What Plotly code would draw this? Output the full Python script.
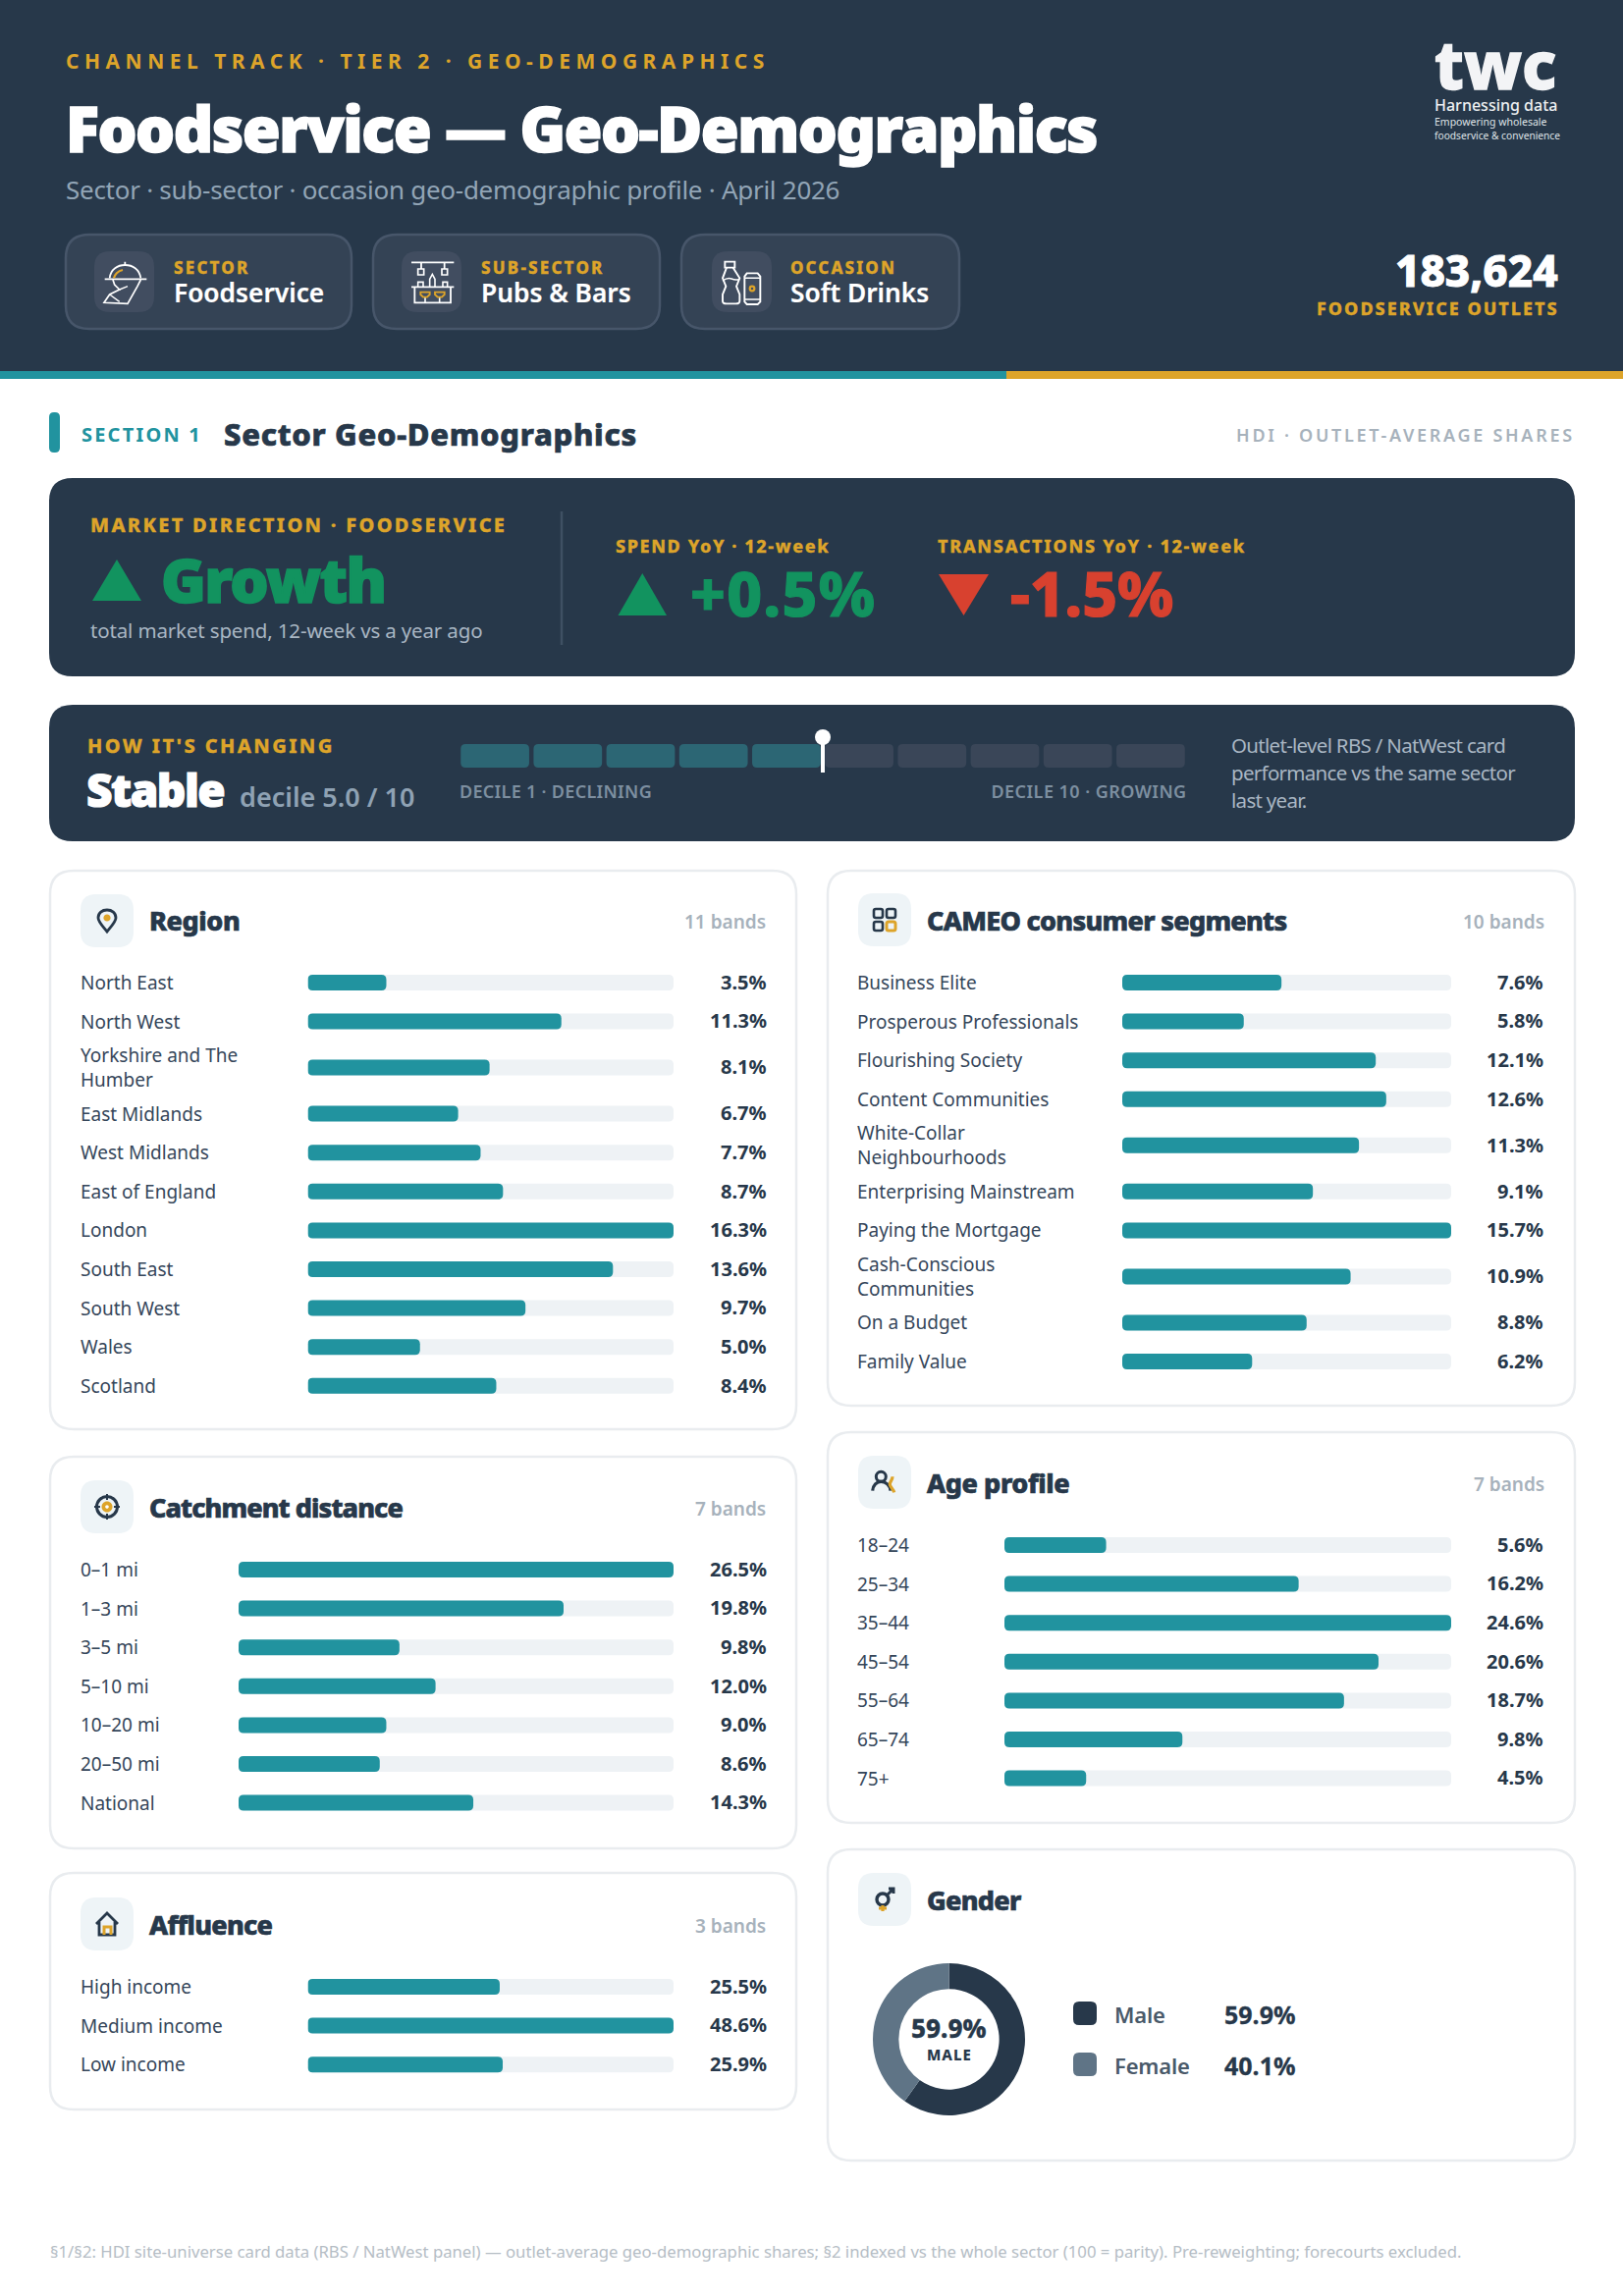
import json
import re
import plotly.graph_objects as go

W, H = 1653, 2339
FONT = "Noto Sans"
NAVY = "#27384a"
TEAL = "#21939f"
GOLD = "#dda42a"
GREEN = "#12935f"
RED = "#d8412f"
TRACK = "#eef2f5"
BORDER = "#e9ecef"
WHITE = "#ffffff"

region_labels = ["North East", "North West", "Yorkshire and The<br>Humber", "East Midlands", "West Midlands",
                 "East of England", "London", "South East", "South West", "Wales", "Scotland"]
region_values = [3.5, 11.3, 8.1, 6.7, 7.7, 8.7, 16.3, 13.6, 9.7, 5.0, 8.4]

cameo_labels = ["Business Elite", "Prosperous Professionals", "Flourishing Society", "Content Communities",
                "White-Collar<br>Neighbourhoods", "Enterprising Mainstream", "Paying the Mortgage",
                "Cash-Conscious<br>Communities", "On a Budget", "Family Value"]
cameo_values = [7.6, 5.8, 12.1, 12.6, 11.3, 9.1, 15.7, 10.9, 8.8, 6.2]

catchment_labels = ["0–1 mi", "1–3 mi", "3–5 mi", "5–10 mi", "10–20 mi", "20–50 mi", "National"]
catchment_values = [26.5, 19.8, 9.8, 12.0, 9.0, 8.6, 14.3]

age_labels = ["18–24", "25–34", "35–44", "45–54", "55–64", "65–74", "75+"]
age_values = [5.6, 16.2, 24.6, 20.6, 18.7, 9.8, 4.5]

affluence_labels = ["High income", "Medium income", "Low income"]
affluence_values = [25.5, 48.6, 25.9]

gender_labels = ["Male", "Female"]
gender_values = [59.9, 40.1]
gender_colors = ["#27384a", "#5f7486"]

decile_bins = [1, 2, 3, 4, 5, 6, 7, 8, 9, 10]
decile_score = 5.0

shapes = []
annotations = []
spacing = {}
strokes = {}
layout_axes = {}
fig = go.Figure()


def rrect(x0, y0, x1, y1, r):
    return (f"M{x0 + r} {y0} L{x1 - r} {y0} Q{x1} {y0} {x1} {y0 + r} L{x1} {y1 - r} Q{x1} {y1} {x1 - r} {y1} "
            f"L{x0 + r} {y1} Q{x0} {y1} {x0} {y1 - r} L{x0} {y0 + r} Q{x0} {y0} {x0 + r} {y0} Z")


def circle(cx, cy, r):
    c = r * 0.5523
    return (f"M{cx + r} {cy} C{cx + r} {cy + c} {cx + c} {cy + r} {cx} {cy + r} "
            f"C{cx - c} {cy + r} {cx - r} {cy + c} {cx - r} {cy} "
            f"C{cx - r} {cy - c} {cx - c} {cy - r} {cx} {cy - r} "
            f"C{cx + c} {cy - r} {cx + r} {cy - c} {cx + r} {cy} Z")


def box(x0, y0, x1, y1, r, fill, line=None, lw=0):
    shapes.append(dict(type="path", path=rrect(x0, y0, x1, y1, r), xref="x", yref="y", fillcolor=fill,
                       line=dict(color=line or fill, width=lw), layer="below"))


def triangle(x0, x1, y_base, y_tip, color):
    shapes.append(dict(type="path", path=f"M{x0} {y_base} L{x1} {y_base} L{(x0 + x1) / 2} {y_tip} Z", xref="x",
                       yref="y", fillcolor=color, line=dict(width=0), layer="below"))


def txt(x, y, text, size, color, weight=400, anchor="left", ls=None, sw=None, yref="y"):
    if yref == "y":
        y -= 1
    annotations.append(dict(x=x, y=y, xref="x", yref=yref, text=text, showarrow=False, xanchor=anchor,
                            yanchor="middle", align=anchor, borderpad=0, borderwidth=0,
                            font=dict(family=FONT, size=size, color=color, weight=weight)))
    if ls:
        spacing[text] = ls
    if sw:
        strokes[text] = sw


def draw_icon(parts, cx, cy, k=1.0, c=12):
    for path, line, fill, lw in parts:
        moved = re.sub(r"(-?[\d.]+) (-?[\d.]+)",
                       lambda m: f"{cx + (float(m.group(1)) - c) * k:.2f} {cy + (float(m.group(2)) - c) * k:.2f}",
                       path)
        shapes.append(dict(type="path", path=moved, xref="x", yref="y", fillcolor=fill or "rgba(0,0,0,0)",
                           line=dict(color=line or "rgba(0,0,0,0)", width=lw), layer="below"))


def row_offsets(labels, pitch, extra):
    offs = [0.0]
    for prev, cur in zip(labels, labels[1:]):
        offs.append(offs[-1] + pitch + (extra if "<br>" in prev else 0) + (extra if "<br>" in cur else 0))
    return offs


def bar_panel(idx, labels, values, label_x, bar_x0, bar_x1, value_x, first_y, pitch=39.6, extra=7.4, thick=16):
    offs = row_offsets(labels, pitch, extra)
    top, bottom = first_y - 24, first_y + offs[-1] + 24
    layout_axes[f"xaxis{idx}"] = dict(domain=[bar_x0 / W, bar_x1 / W], range=[0, max(values)], visible=False,
                                      anchor=f"y{idx}", fixedrange=True)
    layout_axes[f"yaxis{idx}"] = dict(domain=[1 - bottom / H, 1 - top / H], range=[offs[-1] + 24, -24],
                                      visible=False, anchor=f"x{idx}", fixedrange=True)
    fig.add_trace(go.Bar(x=[max(values)] * len(values), y=offs, orientation="h", width=thick, xaxis=f"x{idx}",
                         yaxis=f"y{idx}", marker=dict(color=TRACK, line=dict(width=0)), showlegend=False))
    fig.add_trace(go.Bar(x=values, y=offs, orientation="h", width=thick, xaxis=f"x{idx}", yaxis=f"y{idx}",
                         marker=dict(color=TEAL, line=dict(width=0)), showlegend=False))
    for lab, v, off in zip(labels, values, offs):
        txt(label_x, off, lab, 19, "#35465a", 400, yref=f"y{idx}")
        txt(value_x, off - 0.7, f"{v:.1f}%", 20, NAVY, 700, anchor="right", yref=f"y{idx}")


def card(x0, y0, x1, y1, box_y, title_y, title, bands, parts, ls=-0.7):
    box(x0, y0, x1, y1, 24, WHITE, BORDER, 2.5)
    box(x0 + 31, box_y, x0 + 85, box_y + 54, 16, "#eef4f7")
    draw_icon(parts, x0 + 58, box_y + 27)
    txt(x0 + 101, title_y - 0.5, title, 27, NAVY, 800, ls=ls, sw=0.7)
    if bands:
        txt(x1 - 31, title_y + 1, bands, 19, "#a7b2bc", 600, anchor="right")


# header band
box(0, 0, W, 378, 0, NAVY)
box(0, 378, 1025, 386, 0, TEAL)
box(1025, 378, W, 386, 0, GOLD)
txt(67, 63, "CHANNEL TRACK · TIER 2 · GEO-DEMOGRAPHICS", 21, GOLD, 700, ls=5.5)
txt(67, 131, "Foodservice — Geo-Demographics", 63, WHITE, 900, ls=-1.5, sw=1.6)
txt(67, 194, "Sector · sub-sector · occasion geo-demographic profile · April 2026", 26, "#92a5b6", ls=-0.27)

hat_icon = [
    ("M65 100 C68 72 90 60 112 60 C135 60 156 72 160 100", WHITE, None, 1.8),
    ("M50 103 L178 103 M112 50 L112 60", WHITE, None, 1.8),
    ("M75 105 L80 120 L95 135 L65 150 L48 175 L120 178 L150 125 L160 105", WHITE, None, 1.7),
    ("M65 150 L95 172 M95 135 L120 125", WHITE, None, 1.4),
    ("M78 100 C80 90 90 78 105 75", GOLD, None, 2.2),
]
pub_icon = [
    ("M42 52 L172 52 M72 52 L72 72 M143 52 L143 72", WHITE, None, 1.8),
    ("M62 72 L80 72 L80 90 L62 90 Z M135 72 L152 72 L152 90 L135 90 Z", WHITE, None, 1.7),
    ("M42 127 L172 127 M52 127 L52 175 L162 175 L162 127", WHITE, None, 1.8),
    ("M62 127 L62 112 L78 112 L78 127 M138 127 L138 112 L152 112 L152 127", WHITE, None, 1.6),
    ("M98 127 L98 103 L106 88 L114 103 L114 127", WHITE, None, 1.6),
    ("M84 158 L84 175 M128 158 L128 175", WHITE, None, 1.6),
    ("M70 143 L98 143 L98 150 L90 158 L78 158 L70 150 Z M114 143 L143 143 L143 150 L135 158 L122 158 L114 150 Z",
     GOLD, None, 1.9),
]
bottle_icon = [
    ("M55 50 L85 50 L85 68 L55 68 Z", WHITE, None, 1.9),
    ("M60 68 L48 100 L58 125 L48 150 L48 170 Q48 178 60 178 L88 178 Q100 178 100 170 L100 150 L90 125 L100 100 L80 68",
     WHITE, None, 1.9),
    ("M48 108 Q62 98 75 102 Q86 106 97 104", WHITE, None, 1.5),
    ("M115 95 L122 85 L155 85 L163 95 L163 172 L155 180 L122 180 L115 172 Z", WHITE, None, 1.9),
    ("M115 100 L163 100 M115 165 L163 165", WHITE, None, 1.5),
    (circle(138, 132, 7), GOLD, None, 2.2),
]
for px0, px1, bx, tx, lab, val, icon, icx, tick in [
        (67, 358, 96, 177, "SECTOR", "Foodservice", hat_icon, 127.5, 2.2),
        (380, 672, 409, 490, "SUB-SECTOR", "Pubs & Bars", pub_icon, 442.5, 2.2),
        (694, 977, 725, 805, "OCCASION", "Soft Drinks", bottle_icon, 757.5, 2.1)]:
    box(px0, 239, px1, 335, 24, "#344355", "#47566a", 2.5)
    box(bx, 256, bx + 61, 318, 16, "#414d60")
    draw_icon(icon, icx, 287.5, 1 / 3, 112.5)
    txt(tx, 273, lab, 17, GOLD, 800, ls=tick, sw=0.3)
    txt(tx, 299, val, 26.3, WHITE, 600, sw=0.2)

txt(1461, 66, "twc", 67, "#f3f4f6", 800, sw=1.4)
txt(1461, 108, "Harnessing data", 16, "#eef0f2", 500)
txt(1461, 125, "Empowering wholesale", 10.5, "#dfe3e7")
txt(1461, 139, "foodservice & convenience", 10.2, "#dfe3e7")
txt(1587, 276, "183,624", 44, WHITE, 800, anchor="right", sw=0.9)
txt(1588, 315, "FOODSERVICE OUTLETS", 18, GOLD, 800, anchor="right", ls=2, sw=0.3)

# section header
box(50, 420, 61, 461, 5, TEAL)
txt(83, 443, "SECTION 1", 20, TEAL, 700, ls=2.2)
txt(228, 443, "Sector Geo-Demographics", 31, NAVY, 800, ls=0.7, sw=0.7)
txt(1604, 444, "HDI · OUTLET-AVERAGE SHARES", 18, "#a7b2bc", 600, anchor="right", ls=2.7)

# direction card
box(50, 487, 1604, 689, 24, NAVY)
txt(92, 535, "MARKET DIRECTION · FOODSERVICE", 20, GOLD, 800, ls=2.3, sw=0.3)
triangle(94, 144, 612, 570, GREEN)
txt(164, 590.5, "Growth", 62, GREEN, 900, ls=-1.7, sw=1.6)
txt(92, 643, "total market spend, 12-week vs a year ago", 20.5, "#a9b6c3", ls=-0.15)
shapes.append(dict(type="line", x0=572, x1=572, y0=521, y1=657, xref="x", yref="y",
                   line=dict(color="#3f5063", width=2.5), layer="below"))
txt(627, 557, "SPEND YoY · 12-week", 18, GOLD, 800, ls=1.6, sw=0.3)
triangle(629.5, 679, 627, 584, GREEN)
txt(703, 605, "+0.5%", 62, GREEN, 800, ls=1.4, sw=1.2)
txt(955, 557, "TRANSACTIONS YoY · 12-week", 18, GOLD, 800, ls=1.7, sw=0.3)
triangle(956, 1007, 585, 627, RED)
txt(1029, 605, "-1.5%", 62, RED, 800, sw=1.2)

# decile strip
box(50, 718, 1604, 857, 24, NAVY)
txt(89, 760, "HOW IT'S CHANGING", 20, GOLD, 800, ls=2.4, sw=0.3)
txt(88, 805, "Stable", 46, WHITE, 900, ls=-1.5, sw=1.2)
txt(244, 812, "decile 5.0 / 10", 27, "#8fa2b4", 600)
layout_axes["xaxis9"] = dict(domain=[467 / W, 1209 / W], range=[0, 10], visible=False, anchor="y9", fixedrange=True)
layout_axes["yaxis9"] = dict(domain=[1 - 787 / H, 1 - 743 / H], range=[-5 / 24, 39 / 24], visible=False,
                             anchor="x9", fixedrange=True)
fig.add_trace(go.Bar(x=[b - 0.5 for b in decile_bins], y=[1] * len(decile_bins), width=0.94, xaxis="x9", yaxis="y9",
                     marker=dict(color=["#2c6674" if b <= decile_score else "#3a4658" for b in decile_bins],
                                 line=dict(width=0)), showlegend=False))
fig.add_trace(go.Scatter(x=[decile_score, decile_score], y=[-5 / 24, 31 / 24], mode="lines+markers", xaxis="x9",
                         yaxis="y9", line=dict(color=WHITE, width=4), cliponaxis=False,
                         marker=dict(color=WHITE, size=[0, 16], opacity=1, line=dict(width=0)), showlegend=False))
txt(468, 807, "DECILE 1 · DECLINING", 18, "#7d8fa0", 600, ls=0.3)
txt(1209, 807, "DECILE 10 · GROWING", 18, "#7d8fa0", 600, anchor="right", ls=0.45)
txt(1254, 760, "Outlet-level RBS / NatWest card", 20.5, "#a9b6c3", ls=-0.7)
txt(1254, 788, "performance vs the same sector", 20.5, "#a9b6c3", ls=-0.7)
txt(1254, 816, "last year.", 20.5, "#a9b6c3", ls=-0.7)

# cards and bar panels
pin_icon = [("M12 23 C7 17 3 13 3 9 C3 4 7 1 12 1 C17 1 21 4 21 9 C21 13 17 17 12 23 Z", NAVY, None, 2.8),
            (circle(12, 9, 3.6), None, GOLD, 0)]
grid_icon = [(rrect(1, 1, 10, 10, 2), NAVY, None, 2.6), (rrect(14, 1, 23, 10, 2), NAVY, None, 2.6),
             (rrect(1, 14, 10, 23, 2), NAVY, None, 2.6), (rrect(14, 14, 23, 23, 2), GOLD, None, 3)]
target_icon = [(circle(12, 12, 10.5), NAVY, None, 3), (circle(12, 12, 5.5), None, GOLD, 0),
               (circle(12, 12, 1.8), None, WHITE, 0),
               ("M12 -1 L12 5 M12 19 L12 25 M-1 12 L5 12 M19 12 L25 12", NAVY, None, 2)]
house_icon = [("M1 12 L12 1 L23 12 M4 10 L4 23 L20 23 L20 10", NAVY, None, 2.8),
              ("M9 23 L9 15 L16 15 L16 23", GOLD, None, 3)]
person_icon = [(circle(8.3, 6.3, 5), NAVY, None, 3),
               ("M-0.3 20.7 C0 15 4 11.3 8.3 11.3 C13 11.3 17.5 15 18 20.7", NAVY, None, 3.2),
               ("M20 6.3 C20 10 17.3 11 17.3 14 C17.3 17 21 19 21.7 22.3", GOLD, None, 3.2)]
gender_icon = [(circle(10, 12, 6), NAVY, None, 3.4), ("M14 8 L21 1 M16 1 L21 1 L21 6", NAVY, None, 3),
               ("M10 18 L10 24 M6 21 L14 21", GOLD, None, 3.2)]

card(51, 887, 811, 1456, 911, 939, "Region", "11 bands", pin_icon, ls=-0.4)
bar_panel(2, region_labels, region_values, 81.5, 313.5, 686, 781, 1001)
card(843, 887, 1604, 1432, 910, 939, "CAMEO consumer segments", "10 bands", grid_icon)
bar_panel(3, cameo_labels, cameo_values, 873, 1143, 1478, 1572, 1001)
card(51, 1484, 811, 1883, 1508, 1537, "Catchment distance", "7 bands", target_icon, ls=-0.9)
bar_panel(4, catchment_labels, catchment_values, 81.5, 243, 686, 781, 1599)
card(843, 1459, 1604, 1857, 1483, 1512, "Age profile", "7 bands", person_icon, ls=-0.4)
bar_panel(5, age_labels, age_values, 873, 1023, 1478, 1572, 1574)
card(51, 1908, 811, 2149, 1933, 1962, "Affluence", "3 bands", house_icon)
bar_panel(6, affluence_labels, affluence_values, 81.5, 313.5, 686, 781, 2024)
card(843, 1884, 1604, 2201, 1908, 1937, "Gender", None, gender_icon)

# gender donut
fig.add_trace(go.Pie(labels=gender_labels, values=gender_values, hole=0.66, sort=False, direction="clockwise",
                     rotation=0, marker=dict(colors=gender_colors, line=dict(width=0)), textinfo="none",
                     showlegend=False, domain=dict(x=[889 / W, 1044 / W], y=[1 - 2155 / H, 1 - 2000 / H])))
txt(966.5, 2067, f"{gender_values[0]:.1f}%", 26, NAVY, 800, anchor="center", sw=0.4)
txt(966.5, 2094, gender_labels[0].upper(), 15, NAVY, 800, anchor="center", ls=1)
for lab, v, c, cy in zip(gender_labels, gender_values, gender_colors, [2051, 2103]):
    box(1093, cy - 12, 1117, cy + 12, 6, c)
    txt(1135, cy + 2, lab, 22, "#4a5a6a", 600, ls=-0.2)
    txt(1247, cy + 2, f"{v:.1f}%", 25, NAVY, 700, sw=0.3)

txt(51, 2294, "§1/§2: HDI site-universe card data (RBS / NatWest panel) — outlet-average geo-demographic shares; "
              "§2 indexed vs the whole sector (100 = parity). Pre-reweighting; forecourts excluded.", 16.72, "#b5bdc5")

fig.update_layout(width=W, height=H, margin=dict(l=0, r=0, t=0, b=0), paper_bgcolor=WHITE,
                  plot_bgcolor="rgba(0,0,0,0)", barmode="overlay", showlegend=False, shapes=shapes,
                  annotations=annotations, hovermode=False,
                  xaxis=dict(domain=[0, 1], range=[0, W], visible=False, fixedrange=True, anchor="y"),
                  yaxis=dict(domain=[0, 1], range=[H, 0], visible=False, fixedrange=True, anchor="x"),
                  **layout_axes)

# letter spacing, heavier strokes and bars rounded at both ends are not plotly options
post = """
document.body.style.margin = '0';
var spacing = %s;
var strokes = %s;
document.querySelectorAll('.annotation-text').forEach(function (t) {
  var key = t.textContent;
  if (spacing[key]) { t.style.letterSpacing = spacing[key] + 'px'; }
  if (strokes[key]) {
    t.style.stroke = t.style.fill;
    t.style.strokeWidth = strokes[key] + 'px';
  }
});
document.querySelectorAll('.barlayer .point path').forEach(function (p) {
  var b = p.getBBox(), r = 5;
  var x0 = b.x, y0 = b.y, x1 = b.x + b.width, y1 = b.y + b.height;
  p.setAttribute('d', 'M' + (x0 + r) + ',' + y0 + 'H' + (x1 - r) + 'Q' + x1 + ',' + y0 + ' ' + x1 + ',' + (y0 + r) +
    'V' + (y1 - r) + 'Q' + x1 + ',' + y1 + ' ' + (x1 - r) + ',' + y1 + 'H' + (x0 + r) +
    'Q' + x0 + ',' + y1 + ' ' + x0 + ',' + (y1 - r) + 'V' + (y0 + r) + 'Q' + x0 + ',' + y0 + ' ' + (x0 + r) + ',' + y0 + 'Z');
});
""" % (json.dumps(spacing), json.dumps(strokes))

fig.write_html("out.html", config={"displayModeBar": False}, post_script=post)
